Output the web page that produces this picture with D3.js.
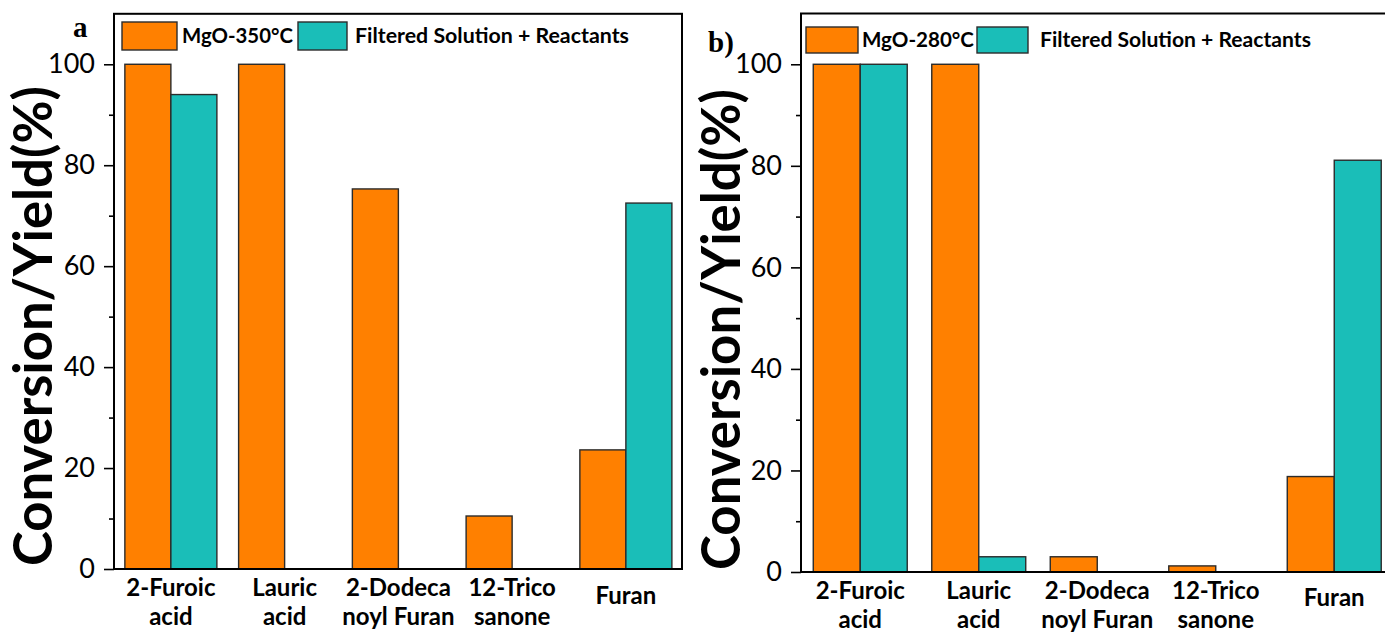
<!DOCTYPE html>
<html>
<head>
<meta charset="utf-8">
<script src="https://cdn.jsdelivr.net/npm/d3@7"></script>
<style>
  body { margin: 0; background: #fff; }
  svg { display: block; }
</style>
</head>
<body>
<svg id="chart" width="1385" height="635"></svg>
<script>
// ---- data ----
const categoryLines = [["2-Furoic", "acid"], ["Lauric", "acid"], ["2-Dodeca", "noyl Furan"], ["12-Trico", "sanone"], ["Furan"]];
const seriesNamesA = ["MgO-350°C", "Filtered Solution + Reactants"];
const seriesNamesB = ["MgO-280°C", "Filtered Solution + Reactants"];
const mgo350 = [100, 100, 75.3, 10.5, 23.6];
const filtered350 = [94, 0, 0, 0, 72.5];
const mgo280 = [100, 100, 3, 1.2, 18.8];
const filtered280 = [100, 3, 0, 0, 81.1];
const yTicks = [0, 20, 40, 60, 80, 100];
const yMinorTicks = [10, 30, 50, 70, 90];
const yTitle = "Conversion/Yield(%)";
const colors = ["#FF8000", "#1ABEB8"];

const FONT = "Lato, 'Open Sans', sans-serif";
const svg = d3.select("#chart");

// shrink/grow a text element's font size so it spans the given width
function fitWidth(sel, width) {
  const w = sel.node().getComputedTextLength();
  const fs = parseFloat(sel.attr("font-size"));
  sel.attr("font-size", (fs * width / w).toFixed(2));
}

const panels = [
  {
    tag: "a", tagX: 73, tagY: 37,
    names: seriesNamesA, values: [mgo350, filtered350],
    left: 114, right: 682.75, frameRight: 682, bottom: 569, top: 13.8,
    pad: 0.191,
    titleX: 52, titleSpan: [86, 566],
    labelDy: [27, 56, 35],
    legend: { y: 22, h: 28, sw: [[122, 55], [298, 49]], tx: [[182, 111], [355, 274]], base: 43, weight: 700 }
  },
  {
    tag: "b)", tagX: 708, tagY: 52,
    names: seriesNamesB, values: [mgo280, filtered280],
    left: 801, right: 1393.5, frameRight: 1393, bottom: 572, top: 13.5,
    pad: 0.207,
    titleX: 740, titleSpan: [89, 570],
    labelDy: [27, 56, 34],
    legend: { y: 27, h: 26, sw: [[806, 52], [977, 51]], tx: [[862, 112], [1040, 271]], base: 47, weight: 700 }
  }
];

panels.forEach(p => {
  const g = svg.append("g");
  const idx = d3.range(categoryLines.length);

  const x = d3.scaleBand().domain(idx).range([p.left, p.right])
    .paddingInner(p.pad).paddingOuter(p.pad / 2);
  const xs = d3.scaleBand().domain([0, 1]).range([0, x.bandwidth()]);
  const y = d3.scaleLinear().domain([0, 110]).range([p.bottom, p.top]);

  // bars
  p.values.forEach((vals, s) => {
    g.append("g").selectAll("rect")
      .data(vals.map((v, i) => ({ v, i })).filter(d => d.v > 0))
      .join("rect")
      .attr("x", d => x(d.i) + xs(s))
      .attr("y", d => y(d.v))
      .attr("width", xs.bandwidth())
      .attr("height", d => y(0) - y(d.v))
      .attr("fill", colors[s])
      .attr("stroke", "#2b2b2b")
      .attr("stroke-width", 1.4);
  });

  // y axis with outward ticks
  const yAxis = d3.axisLeft(y).tickValues(yTicks).tickSize(10).tickPadding(9)
    .tickFormat(d3.format("d"));
  const ya = g.append("g").attr("transform", `translate(${p.left},0)`).call(yAxis);
  ya.select(".domain").remove();
  ya.selectAll(".tick line").attr("stroke", "#000").attr("stroke-width", 1.6);
  ya.selectAll(".tick text").attr("font-family", FONT).attr("font-size", 27)
    .attr("fill", "#000");

  g.append("g").attr("transform", `translate(${p.left},0)`)
    .call(d3.axisLeft(y).tickValues(yMinorTicks).tickSize(5).tickFormat(""))
    .call(a => a.select(".domain").remove())
    .selectAll(".tick line").attr("stroke", "#000").attr("stroke-width", 1.6);

  // frame
  g.append("rect")
    .attr("x", p.left).attr("y", y(110))
    .attr("width", p.frameRight - p.left).attr("height", y(0) - y(110))
    .attr("fill", "none").attr("stroke", "#000").attr("stroke-width", 2);

  // category labels
  categoryLines.forEach((lines, i) => {
    const cx = x(i) + x.bandwidth() / 2;
    lines.forEach((t, k) => {
      const dy = lines.length === 1 ? p.labelDy[2] : p.labelDy[k];
      g.append("text")
        .attr("x", cx).attr("y", p.bottom + dy)
        .attr("text-anchor", "middle")
        .attr("font-family", FONT).attr("font-weight", 700).attr("font-size", 24)
        .attr("fill", "#000")
        .text(t);
    });
  });

  // y title
  const tcy = (p.titleSpan[0] + p.titleSpan[1]) / 2;
  const tt = g.append("text")
    .attr("transform", `translate(${p.titleX},${tcy}) rotate(-90)`)
    .attr("text-anchor", "middle")
    .attr("font-family", FONT).attr("font-weight", 700).attr("font-size", 44)
    .attr("fill", "#000")
    .text(yTitle);
  fitWidth(tt, p.titleSpan[1] - p.titleSpan[0]);

  // legend
  const L = p.legend;
  p.names.forEach((name, s) => {
    g.append("rect")
      .attr("x", L.sw[s][0]).attr("y", L.y)
      .attr("width", L.sw[s][1]).attr("height", L.h)
      .attr("fill", colors[s]).attr("stroke", "#2b2b2b").attr("stroke-width", 1.4);
    const lt = g.append("text")
      .attr("x", L.tx[s][0]).attr("y", L.base)
      .attr("font-family", FONT).attr("font-weight", L.weight).attr("font-size", 19)
      .attr("fill", "#000")
      .text(name);
    fitWidth(lt, L.tx[s][1]);
  });

  // panel tag
  g.append("text")
    .attr("x", p.tagX).attr("y", p.tagY)
    .attr("font-family", "'Liberation Serif', 'Times New Roman', serif")
    .attr("font-weight", 700).attr("font-size", 29)
    .attr("fill", "#000")
    .text(p.tag);
});
</script>
</body>
</html>
